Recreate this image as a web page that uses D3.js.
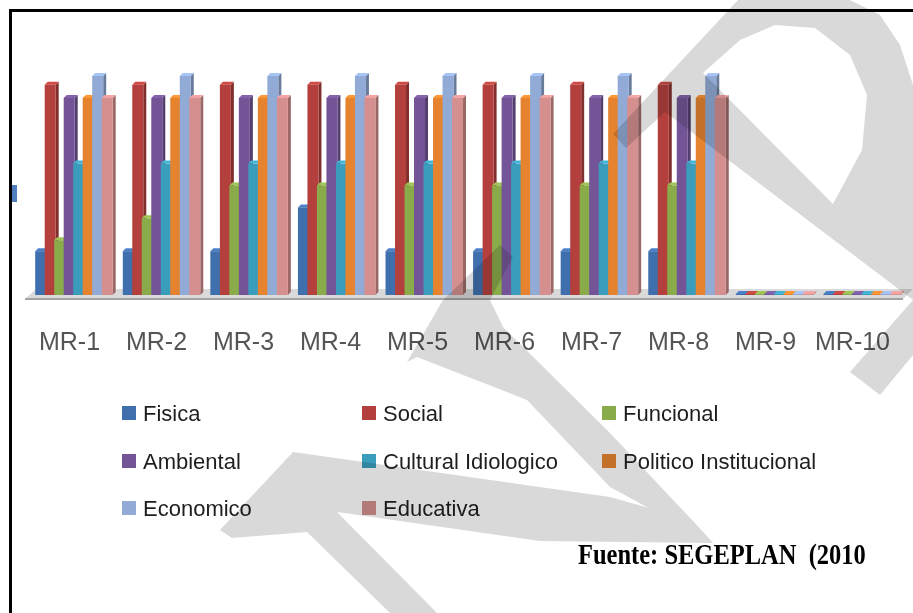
<!DOCTYPE html>
<html>
<head>
<meta charset="utf-8">
<script src="https://cdn.jsdelivr.net/npm/d3@7"></script>
<style>
	body { margin: 0; background: #fff; }
	svg { display: block; }
</style>
</head>
<body>
<svg id="chart" width="913" height="613"></svg>
<script>
"use strict"

var categories = ["MR-1", "MR-2", "MR-3", "MR-4", "MR-5", "MR-6", "MR-7", "MR-8", "MR-9", "MR-10"];
var seriesNames = ["Fisica", "Social", "Funcional", "Ambiental", "Cultural Idiologico", "Politico Institucional", "Economico", "Educativa"];
var seriesColors = ["#3f6fad", "#b3403c", "#8aab4a", "#735597", "#3a9dbb", "#e5832f", "#91aad6", "#d48f8e"];

var fisica    = [2, 2, 2, 4, 2, 2, 2, 2, 0, 0];
var social    = [9.6, 9.6, 9.6, 9.6, 9.6, 9.6, 9.6, 9.6, 0, 0];
var funcional = [2.5, 3.5, 5, 5, 5, 5, 5, 5, 0, 0];
var ambiental = [9, 9, 9, 9, 9, 9, 9, 9, 0, 0];
var cultural  = [6, 6, 6, 6, 6, 6, 6, 6, 0, 0];
var politico  = [9, 9, 9, 9, 9, 9, 9, 9, 0, 0];
var economico = [10, 10, 10, 10, 10, 10, 10, 10, 0, 0];
var educativa = [9, 9, 9, 9, 9, 9, 9, 9, 0, 0];

var seriesValues = [fisica, social, funcional, ambiental, cultural, politico, economico, educativa];

var svg = d3.select("#chart");

// frame of the scanned figure
svg.append("line")
	.attr("x1", 9).attr("y1", 10.5).attr("x2", 913).attr("y2", 10.5)
	.attr("stroke", "#000").attr("stroke-width", 3)
	;
svg.append("line")
	.attr("x1", 10.5).attr("y1", 9).attr("x2", 10.5).attr("y2", 613)
	.attr("stroke", "#000").attr("stroke-width", 3)
	;
svg.append("rect")
	.attr("x", 12).attr("y", 185).attr("width", 5).attr("height", 17)
	.attr("fill", "#4f7fbf")
	;

var baseY = 295;
var depth = 3;

var x0 = d3.scaleBand()
	.domain(categories)
	.range([31.2, 907])
	;
var x1 = d3.scaleBand()
	.domain(seriesNames)
	.range([0, 76])
	;
var y = d3.scaleLinear()
	.domain([0, 10])
	.range([baseY, 76])
	;
var xl = d3.scaleBand()
	.domain(categories)
	.range([26, 896])
	;

// floor
svg.append("path")
	.attr("d", "M 25 299 L 36 289 L 913 289 L 903 299 Z")
	.attr("fill", "#dadada")
	.attr("stroke", "none")
	;
svg.append("line")
	.attr("x1", 25).attr("y1", 299).attr("x2", 903).attr("y2", 299)
	.attr("stroke", "#a3a3a3").attr("stroke-width", 2)
	;

// bars, drawn left to right so each front covers its neighbour's side
var barW = 11;
var bars = [];
categories.forEach(function(c, i) {
	seriesNames.forEach(function(s, j) {
		bars.push({cat: c, name: s, value: seriesValues[j][i], color: seriesColors[j]});
	});
});

var g = svg.append("g").attr("class", "bars");
bars.forEach(function(d) {
	var bx = x0(d.cat) + 4 + x1(d.name);
	var top = Math.min(y(d.value), baseY - 1);
	var col = d3.color(d.color);
	var gb = g.append("g");
	gb.append("path")
		.attr("d", "M " + (bx + barW) + " " + top
			+ " l " + depth + " " + (-depth)
			+ " V " + (baseY - depth)
			+ " l " + (-depth) + " " + depth + " Z")
		.attr("fill", col.darker(0.9))
		;
	gb.append("path")
		.attr("d", "M " + bx + " " + top
			+ " l " + depth + " " + (-depth)
			+ " h " + barW
			+ " l " + (-depth) + " " + depth + " Z")
		.attr("fill", col.brighter(0.4))
		;
	gb.append("rect")
		.attr("x", bx)
		.attr("y", top)
		.attr("width", barW)
		.attr("height", baseY - top)
		.attr("fill", col)
		;
});

// category labels
var axis = d3.axisBottom(xl).tickSize(0).tickPadding(0);
var ax = svg.append("g")
	.attr("transform", "translate(0, 332)")
	.call(axis)
	;
ax.select(".domain").remove();
ax.selectAll("text")
	.attr("dy", "0.71em")
	.attr("font-family", "Liberation Sans, Arial, sans-serif")
	.attr("font-size", 25)
	.attr("fill", "#555")
	;

// legend
var legCols = [122, 362, 602];
var legRows = [413, 461, 508];
var leg = svg.append("g").attr("class", "legend");
seriesNames.forEach(function(s, i) {
	var lx = legCols[i % 3];
	var ly = legRows[Math.floor(i / 3)];
	leg.append("rect")
		.attr("x", lx).attr("y", ly - 7)
		.attr("width", 14).attr("height", 14)
		.attr("fill", seriesColors[i])
		;
	leg.append("text")
		.attr("x", lx + 21).attr("y", ly)
		.attr("dy", "0.35em")
		.attr("font-family", "Liberation Sans, Arial, sans-serif")
		.attr("font-size", 22)
		.attr("fill", "#1e1e1e")
		.text(s)
		;
});

// source note, squeezed horizontally like the scan
var src = svg.append("text")
	.attr("x", 0).attr("y", 0)
	.attr("font-family", "Liberation Serif, Times New Roman, serif")
	.attr("font-size", 30)
	.attr("font-weight", "bold")
	.style("white-space", "pre")
	.attr("fill", "#000")
	.text("Fuente: SEGEPLAN  (2010")
	;
var srcW = src.node().getComputedTextLength();
src.attr("transform", "translate(578, 564) scale(" + (288 / srcW) + ", 1)");

// watermark strokes over everything
var wm = svg.append("g")
	.style("mix-blend-mode", "multiply")
	.attr("fill", "#d9d9d9")
	.attr("fill-rule", "evenodd")
	;
function poly(pts) {
	return "M " + pts.map(function(p) { return p[0] + " " + p[1]; }).join(" L ") + " Z ";
}
wm.append("path")
	.attr("d", poly([[220,530],[293,452],[610,497],[692,520],[713,543],[540,541],[337,512],[437,613],[390,613],[307,532],[232,538]]))
	;
wm.append("path")
	.attr("d", poly([[407,362],[443,300],[500,245],[513,257],[490,300],[503,327],[610,433],[692,520],[713,543],[610,487],[527,400],[417,357]]))
	;
wm.append("path")
	.attr("d", poly([[613,134],[738,0],[850,0],[880,15],[900,45],[913,85],[913,300],[665,112],[626,148]])
		+ poly([[703,73],[740,40],[775,25],[815,28],[850,55],[867,95],[862,150],[833,204]]))
	;
wm.append("path")
	.attr("d", poly([[913,300],[913,355],[880,395],[850,372]]))
	;
</script>
</body>
</html>
